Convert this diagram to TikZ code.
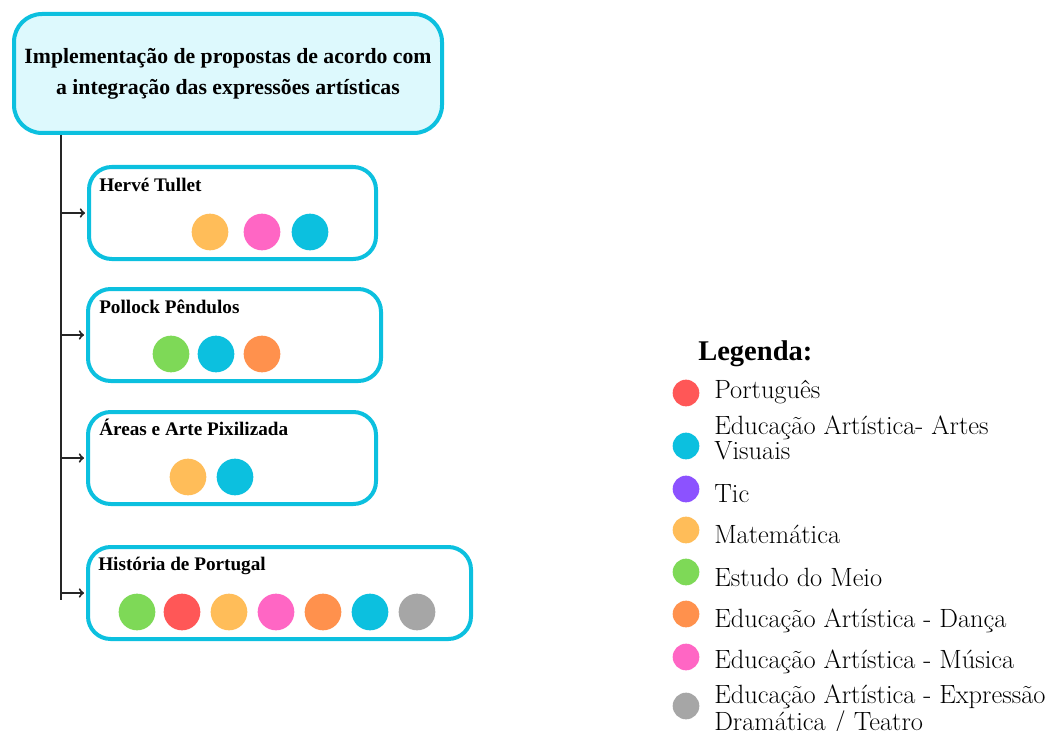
\documentclass[tikz,border=0pt]{standalone}
\usepackage{fontspec}
\newfontfamily\titlefont{Liberation Serif}
\usepackage{xcolor}
\usepackage{tikz}
\definecolor{boxcyan}{RGB}{12,192,223}
\definecolor{boxfill}{RGB}{221,249,253}
\definecolor{dotred}{RGB}{255,87,87}
\definecolor{dotcyan}{RGB}{12,192,223}
\definecolor{dotpurple}{RGB}{140,82,255}
\definecolor{dotyellow}{RGB}{255,189,89}
\definecolor{dotgreen}{RGB}{126,217,87}
\definecolor{dotorange}{RGB}{255,145,77}
\definecolor{dotpink}{RGB}{255,102,196}
\definecolor{dotgray}{RGB}{166,166,166}
\tikzset{
topbox/.style={
  draw=boxcyan, fill=boxfill,
  line width=3pt,
  rounded corners=21pt,
  minimum width=321pt, minimum height=89.25pt,
  inner sep=0pt, align=center,
  font=\titlefont\bfseries\fontsize{16.3}{23.25}\selectfont
},
subbox/.style={
  draw=boxcyan, line width=3pt,
  rounded corners=17pt,
  minimum height=69pt, inner sep=0pt
},
boxtitle/.style={anchor=base west, inner sep=0pt,
  font=\titlefont\bfseries\fontsize{14.4}{17}\selectfont},
dot/.style={circle, fill=#1, minimum size=27.5pt, inner sep=0pt},
keydot/.style={circle, fill=#1, minimum size=20pt, inner sep=0pt},
keytext/.style={anchor=base west, inner sep=0pt, align=left,
  font=\fontsize{19.8}{14.25}\selectfont},
spine/.style={line width=1.5pt, black!85},
}

\begin{document}
\begin{tikzpicture}[x=0.75pt, y=-0.75pt]
\useasboundingbox (0,0) rectangle (1052,731);
% the main box
\node[topbox] (top) at (228,73.5)
  {Implementação de propostas de acordo com\\a integração das expressões artísticas};
% the activity boxes
\node[subbox, minimum width=215.25pt] (tullet)   at (232.5,213) {};
\node[subbox, minimum width=219.75pt] (pollock)  at (234.5,335) {};
\node[subbox, minimum width=216pt]    (areas)    at (232,458)   {};
\node[subbox, minimum width=287.25pt] (historia) at (279.5,593) {};
\node[boxtitle] (tullet-title)   at (99,191) {Hervé Tullet};
\node[boxtitle] (pollock-title)  at (99,313) {Pollock Pêndulos};
\node[boxtitle] (areas-title)    at (99,435) {Áreas e Arte Pixilizada};
\node[boxtitle] (historia-title) at (98,570) {História de Portugal};
% the dots
\foreach \x/\c [count=\i] in {210/dotyellow,262/dotpink,310/dotcyan}
  \node[dot=\c] (tullet-\i) at (\x,232) {};
\foreach \x/\c [count=\i] in {171/dotgreen,216/dotcyan,262/dotorange}
  \node[dot=\c] (pollock-\i) at (\x,354) {};
\foreach \x/\c [count=\i] in {188/dotyellow,235/dotcyan}
  \node[dot=\c] (areas-\i) at (\x,477) {};
\foreach \x/\c [count=\i] in {137/dotgreen,182/dotred,229/dotyellow,276/dotpink,323/dotorange,370/dotcyan,417/dotgray}
  \node[dot=\c] (historia-\i) at (\x,612) {};
% the tree lines
\coordinate (spine-top) at (61,135);
\coordinate (spine-end) at (61,600);
\draw[spine] (spine-top) -- (spine-end);
\foreach \b in {tullet,pollock,areas,historia}
{
  \draw[spine,->,shorten >=1.5pt] (spine-top |- \b.west) -- (\b.west);
}
% the legend
\node[boxtitle, font=\titlefont\bfseries\fontsize{21.4}{25}\selectfont] (legend) at (698,360) {Legenda:};
\foreach \y/\c [count=\i] in {393/dotred,446/dotcyan,489/dotpurple,530/dotyellow,572/dotgreen,614/dotorange,657/dotpink,706/dotgray}
  \node[keydot=\c] (key-\i) at (686,\y) {};
\node[keytext] (key-text-1) at (714,398) {Português};
\node[keytext] (key-text-2) at (714,459) {Educação Artística- Artes\\Visuais};
\node[keytext] (key-text-3) at (714,502) {Tic};
\node[keytext] (key-text-4) at (714,543) {Matemática};
\node[keytext] (key-text-5) at (714,586) {Estudo do Meio};
\node[keytext] (key-text-6) at (714,627) {Educação Artística - Dança};
\node[keytext] (key-text-7) at (714,668) {Educação Artística - Música};
\node[keytext] (key-text-8) at (714,730) {Educação Artística - Expressão\\Dramática / Teatro};
\end{tikzpicture}
\end{document}
